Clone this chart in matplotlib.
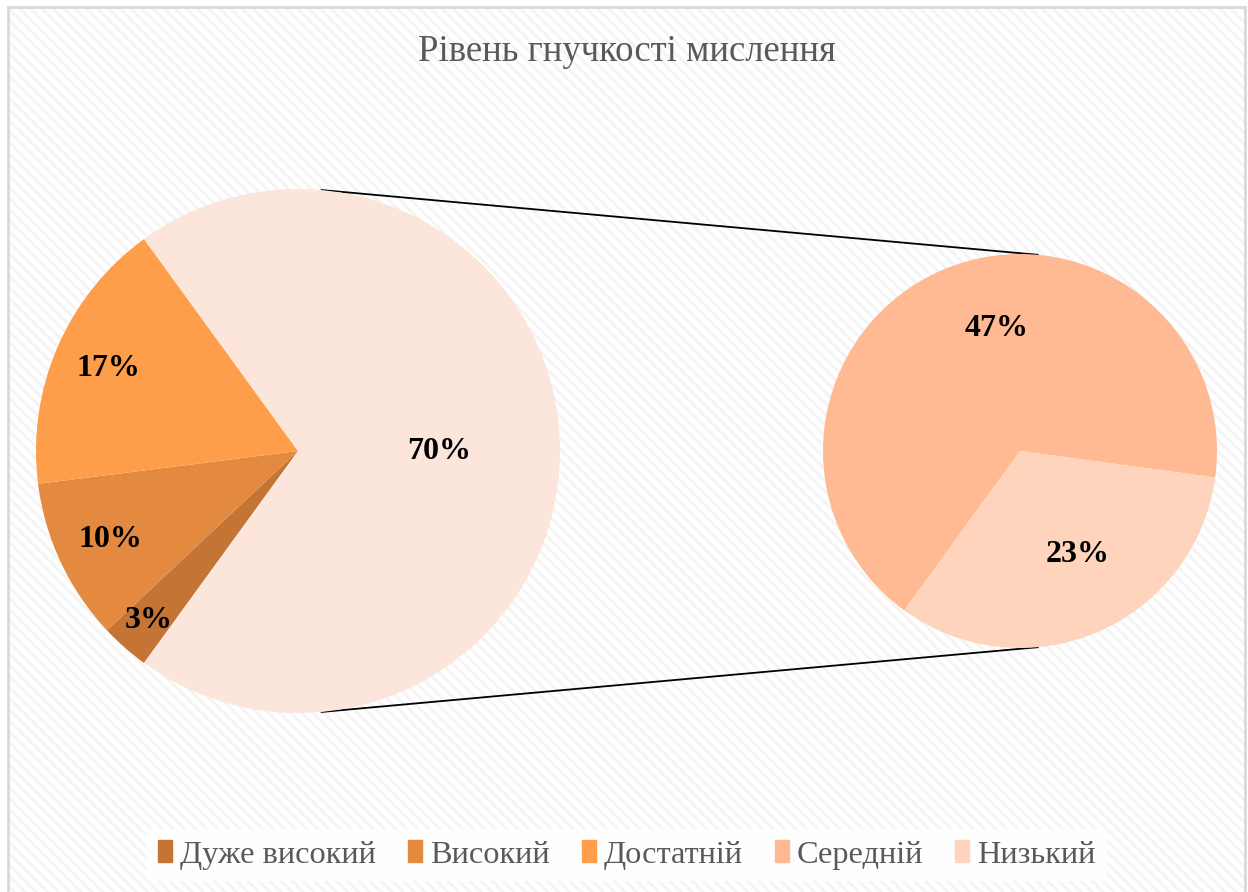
import numpy as np
import matplotlib
matplotlib.use("Agg")
import matplotlib.pyplot as plt
from matplotlib.patches import Rectangle, Patch

# data (percent of all respondents)
main_labels = ["Дуже високий", "Високий", "Достатній"]
main_values = [3, 10, 17]
sub_labels = ["Середній", "Низький"]
sub_values = [47, 23]

main_colors = ["#C47434", "#E38A40", "#FF9E4A"]
other_color = "#FCE6DC"
sub_colors = ["#FFBA93", "#FFD4BC"]

title = "Рівень гнучкості мислення"

plt.rcParams["font.family"] = ["Liberation Serif", "DejaVu Serif"]
plt.rcParams["hatch.linewidth"] = 2.0

W, H = 1248, 892
fig = plt.figure(figsize=(W / 100, H / 100), dpi=100)
ax = fig.add_axes([0, 0, 1, 1])

# chart area with light diagonal stripes
ax.add_patch(Rectangle((8, -5), 1237, 890, facecolor="white", edgecolor="#F4F4F4",
                       hatch="\\\\\\", lw=0, zorder=0))
ax.add_patch(Rectangle((8, -5), 1237, 890, facecolor="none", edgecolor="#D9D9D9",
                       lw=2, zorder=1))

c1, r1 = (298, 441), 262
c2, r2 = (1020, 441), 197

other = sum(sub_values)
other_deg = other / 100 * 360
start = 360 - other_deg / 2

w1, _ = ax.pie(main_values + [other], colors=main_colors + [other_color],
               startangle=start, counterclock=False, center=c1, radius=r1,
               frame=True, wedgeprops=dict(lw=0))
w2, _ = ax.pie(sub_values, colors=sub_colors, startangle=start, counterclock=False,
               center=c2, radius=r2, frame=True, wedgeprops=dict(lw=0))


def put_labels(wedges, values, center, r, dists, shifts):
    # data labels, "best fit" like placement
    for w, v, d, s in zip(wedges, values, dists, shifts):
        a = np.deg2rad((w.theta1 + w.theta2) / 2 + s)
        ax.text(center[0] + d * r * np.cos(a), center[1] + d * r * np.sin(a), f"{v}%",
                ha="center", va="center", fontsize=23, fontweight="bold", color="black")


put_labels(w1, main_values + [other], c1, r1, [0.86, 0.79, 0.79, 0.54], [0, 0, 0, 0])
put_labels(w2, sub_values, c2, r2, [0.635, 0.60], [-12.6, 6])

# outer tangent connector lines between the two pies
d = c2[0] - c1[0]
alpha = np.arcsin((r1 - r2) / d)
phi = np.pi / 2 - alpha
for s in (1, -1):
    ax.plot([c1[0] + r1 * np.cos(phi), c2[0] + r2 * np.cos(phi)],
            [c1[1] + s * r1 * np.sin(phi), c2[1] + s * r2 * np.sin(phi)],
            color="black", lw=1.3, zorder=0.5)

ax.text(627, 840, title, ha="center", va="center", fontsize=26.5, color="#595959")

handles = [Patch(color=c) for c in main_colors + sub_colors]
leg = fig.legend(handles, main_labels + sub_labels, loc="center", ncol=5,
                 bbox_to_anchor=(627 / W, 1 - 855 / H), fontsize=23.3, frameon=True,
                 handlelength=0.42, handleheight=0.65, handletextpad=0.25,
                 columnspacing=1.0, borderpad=0.35, borderaxespad=0, fancybox=False)
leg.get_frame().set_facecolor("white")
leg.get_frame().set_edgecolor("none")
leg.get_frame().set_alpha(0.85)
for t in leg.get_texts():
    t.set_color("#595959")

ax.set_xlim(0, W)
ax.set_ylim(0, H)
ax.set_aspect("equal")
ax.axis("off")

fig.savefig("out.png", dpi=100, facecolor="white")
